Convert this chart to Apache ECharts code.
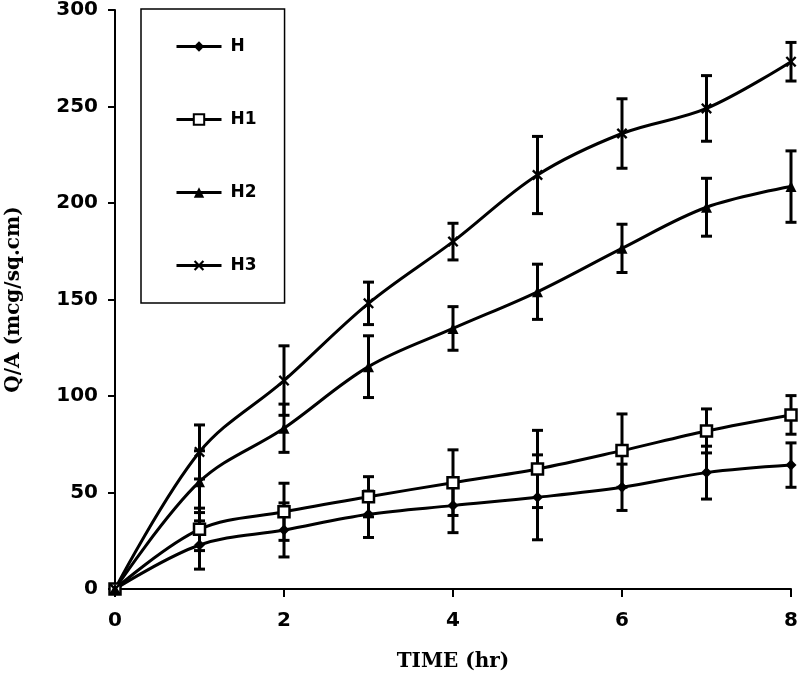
<!DOCTYPE html>
<html>
<head>
<meta charset="utf-8">
<script src="https://cdn.jsdelivr.net/npm/echarts@6/dist/echarts.min.js"></script>
<style>html,body{margin:0;padding:0;background:#fff;}#c{width:799px;height:679px;}</style>
</head>
<body>
<div id="c"></div>
<script>
const times = [0, 1, 2, 3, 4, 5, 6, 7, 8];
const seriesNames = ['H', 'H1', 'H2', 'H3'];
const valH  = [0, 22.8, 30.6, 38.7, 43.2, 47.5, 52.7, 60.3, 64.2];
const errH  = [0, 12.5, 14, 12, 14, 22, 12, 13.7, 11.5];
const valH1 = [0, 30.9, 40, 47.8, 55.1, 62.2, 71.7, 81.9, 90.2];
const errH1 = [0, 11, 14.8, 10.4, 17, 20, 19, 11.4, 10];
const valH2 = [0, 55.6, 83.3, 115.2, 135, 154, 176.5, 197.8, 208.5];
const errH2 = [0, 16, 12.5, 16, 11.3, 14.3, 12.5, 15, 18.5];
const valH3 = [0, 71, 108, 148, 180, 214.5, 236, 249, 273.2];
const errH3 = [0, 14, 18, 11, 9.5, 20, 18, 17, 10];
const xTicks = [0, 2, 4, 6, 8];
const yTicks = [0, 50, 100, 150, 200, 250, 300];

const vals = [valH, valH1, valH2, valH3];
const errs = [errH, errH1, errH2, errH3];
const xShape = 'path://M0,1.5 L1.5,0 L5,3.5 L8.5,0 L10,1.5 L6.5,5 L10,8.5 L8.5,10 L5,6.5 L1.5,10 L0,8.5 L3.5,5 Z';
const symbols = ['diamond', 'rect', 'triangle', xShape];
const symSizes = [11, 11, 11, 11];
const fills = ['#000', '#fff', '#000', '#000'];

const series = [];
seriesNames.forEach((name, i) => {
  series.push({
    name: name + ' err',
    type: 'custom',
    z: 1,
    silent: true,
    data: times.map((t, k) => [t, vals[i][k], errs[i][k]]),
    renderItem: function (params, api) {
      const x = api.value(0), y = api.value(1), e = api.value(2);
      if (!e) return null;
      const top = api.coord([x, y + e]);
      const bot = api.coord([x, y - e]);
      const hw = 5.5;
      const st = { stroke: '#000', lineWidth: 3 };
      return {
        type: 'group',
        children: [
          { type: 'line', shape: { x1: top[0], y1: top[1], x2: bot[0], y2: bot[1] }, style: st },
          { type: 'line', shape: { x1: top[0] - hw, y1: top[1], x2: top[0] + hw, y2: top[1] }, style: st },
          { type: 'line', shape: { x1: bot[0] - hw, y1: bot[1], x2: bot[0] + hw, y2: bot[1] }, style: st }
        ]
      };
    }
  });
});
seriesNames.forEach((name, i) => {
  series.push({
    name: name,
    type: 'line',
    z: 3,
    smooth: 0.35,
    symbol: symbols[i],
    symbolSize: symSizes[i],
    showAllSymbol: true,
    data: times.map((t, k) => [t, vals[i][k]]),
    lineStyle: { color: '#000', width: 3 },
    itemStyle: { color: fills[i], borderColor: '#000', borderWidth: i === 1 ? 2.5 : 0 }
  });
});

const chart = echarts.init(document.getElementById('c'), null, { renderer: 'canvas' });
chart.setOption({
  animation: false,
  backgroundColor: '#fff',
  grid: { left: 115, right: 8, top: 10, bottom: 90, containLabel: false, outerBoundsMode: 'none' },
  legend: {
    data: seriesNames,
    orient: 'vertical',
    left: 141,
    top: 9,
    padding: [29, 28, 29, 34],
    itemGap: 56,
    itemWidth: 45,
    itemHeight: 13,
    borderColor: '#000',
    borderWidth: 1.5,
    lineStyle: { width: 3, color: '#000' },
    textStyle: { fontFamily: 'DejaVu Sans', fontWeight: 'bold', fontSize: 17, lineHeight: 17, color: '#000', padding: [0, 0, 0, 4] }
  },
  xAxis: {
    type: 'value',
    min: xTicks[0],
    max: xTicks[xTicks.length - 1],
    interval: 2,
    name: 'TIME (hr)',
    nameLocation: 'middle',
    nameGap: 63,
    nameTextStyle: { fontFamily: 'DejaVu Serif', fontWeight: 'bold', fontSize: 20, color: '#000' },
    splitLine: { show: false },
    axisLine: { lineStyle: { color: '#000', width: 2 } },
    axisTick: { length: 8, lineStyle: { color: '#000', width: 2 } },
    axisLabel: { margin: 22, fontFamily: 'DejaVu Sans', fontWeight: 'bold', fontSize: 20, color: '#000' }
  },
  yAxis: {
    type: 'value',
    min: yTicks[0],
    max: yTicks[yTicks.length - 1],
    interval: 50,
    name: 'Q/A (mcg/sq.cm)',
    nameLocation: 'middle',
    nameGap: 91,
    nameTextStyle: { fontFamily: 'DejaVu Serif', fontWeight: 'bold', fontSize: 20, color: '#000' },
    splitLine: { show: false },
    axisLine: { show: true, lineStyle: { color: '#000', width: 2 } },
    axisTick: { show: true, length: 7, lineStyle: { color: '#000', width: 2 } },
    axisLabel: { margin: 17, fontFamily: 'DejaVu Sans', fontWeight: 'bold', fontSize: 20, color: '#000' }
  },
  series: series
});
</script>
</body>
</html>
